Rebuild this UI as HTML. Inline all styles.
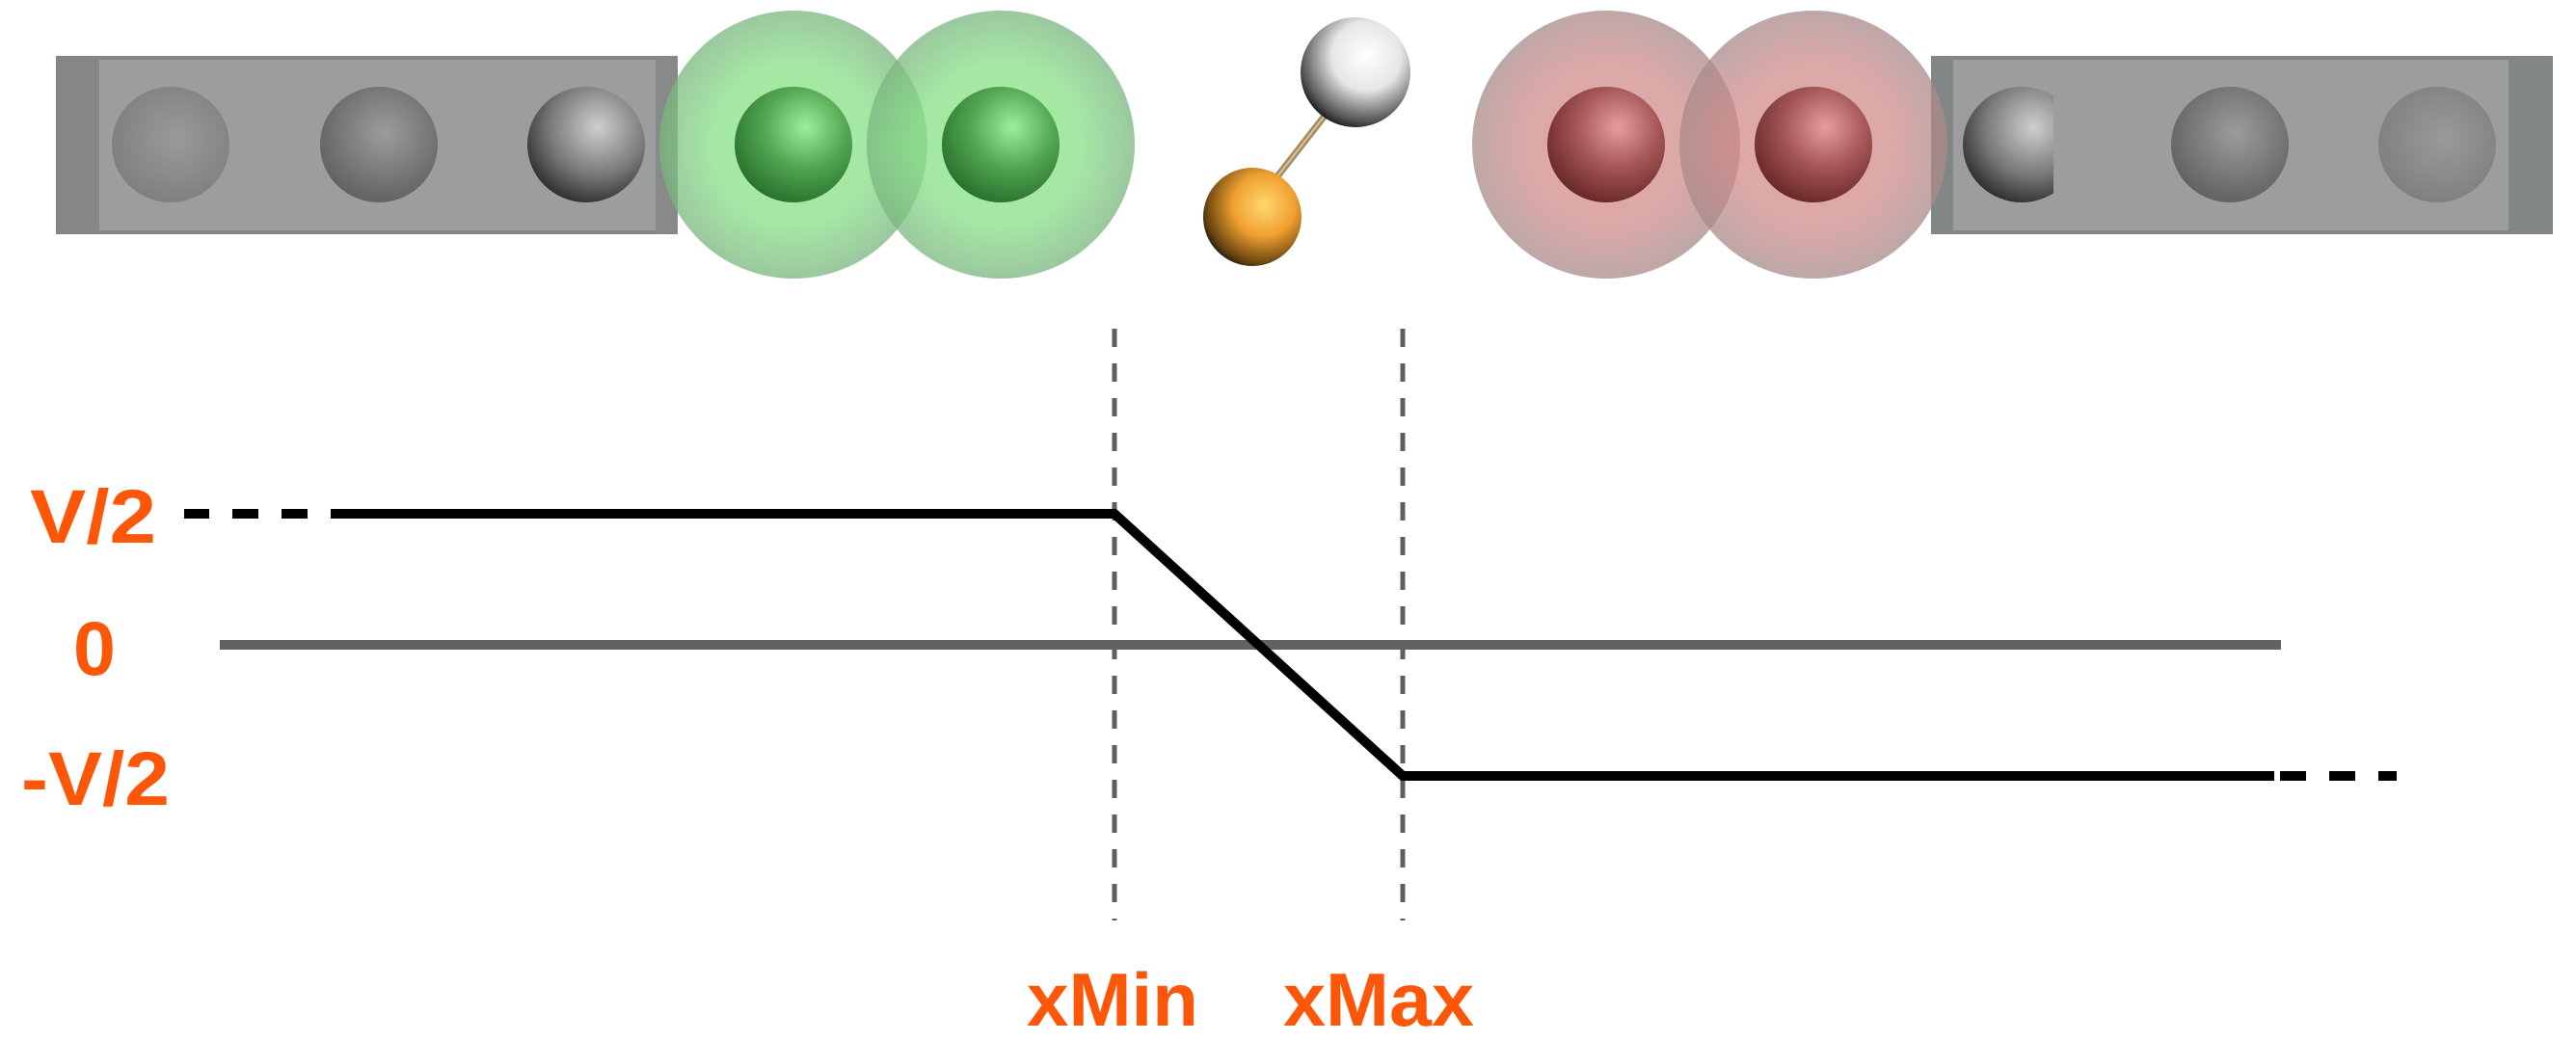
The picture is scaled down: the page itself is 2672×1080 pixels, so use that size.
<!DOCTYPE html>
<html><head><meta charset="utf-8"><style>
html,body{margin:0;padding:0;background:#fff;}
svg{display:block;}
text{font-family:"Liberation Sans",sans-serif;font-weight:bold;fill:#fc5608;}
</style></head><body>
<svg width="2672" height="1080" viewBox="0 0 2672 1080" xmlns="http://www.w3.org/2000/svg">
<defs>
<radialGradient id="gFaint" cx="0.55" cy="0.45" r="0.6"><stop offset="0" stop-color="#9a9a9a"/><stop offset="1" stop-color="#7e7e7e"/></radialGradient>
<radialGradient id="gMid" cx="0.55" cy="0.4" r="0.65"><stop offset="0" stop-color="#9c9c9c"/><stop offset="1" stop-color="#5e5e5e"/></radialGradient>
<radialGradient id="gShiny" cx="0.6" cy="0.35" r="0.7"><stop offset="0" stop-color="#cfcfcf"/><stop offset="0.6" stop-color="#777"/><stop offset="1" stop-color="#2a2a2a"/></radialGradient>
<radialGradient id="gWhite" cx="0.6" cy="0.35" r="0.7"><stop offset="0" stop-color="#fff"/><stop offset="0.45" stop-color="#e6e6e6"/><stop offset="0.85" stop-color="#555"/><stop offset="1" stop-color="#111"/></radialGradient>
<radialGradient id="gOrange" cx="0.62" cy="0.38" r="0.7"><stop offset="0" stop-color="#ffd870"/><stop offset="0.45" stop-color="#f0a030"/><stop offset="0.85" stop-color="#6a4410"/><stop offset="1" stop-color="#111"/></radialGradient>
<radialGradient id="gGreen" cx="0.6" cy="0.35" r="0.7"><stop offset="0" stop-color="#a4f5a4"/><stop offset="0.5" stop-color="#3f923f"/><stop offset="1" stop-color="#04460a"/></radialGradient>
<radialGradient id="gRed" cx="0.6" cy="0.35" r="0.7"><stop offset="0" stop-color="#f0a4a4"/><stop offset="0.5" stop-color="#964646"/><stop offset="1" stop-color="#420404"/></radialGradient>
<radialGradient id="gHaloG" cx="0.5" cy="0.5" r="0.5"><stop offset="0.6" stop-color="#86e086" stop-opacity="0.75"/><stop offset="1" stop-color="#7ab57f" stop-opacity="0.75"/></radialGradient>
<radialGradient id="gHaloR" cx="0.5" cy="0.5" r="0.5"><stop offset="0.6" stop-color="#cf8686" stop-opacity="0.72"/><stop offset="1" stop-color="#a88a8a" stop-opacity="0.75"/></radialGradient>
<clipPath id="clipR"><rect x="2000" y="0" width="130" height="400"/></clipPath>
</defs>

<rect x="58" y="58" width="645" height="185" fill="#858787"/>
<rect x="103" y="62" width="577" height="177" fill="#9c9d9f"/>
<polygon points="680,58 703,62 703,239 680,243" fill="#888a8a"/>
<ellipse cx="177" cy="150" rx="61" ry="60" fill="url(#gFaint)"/>
<ellipse cx="393" cy="150" rx="61" ry="60" fill="url(#gMid)"/>
<ellipse cx="608" cy="150" rx="61" ry="60" fill="url(#gShiny)"/>

<rect x="2003" y="58" width="645" height="185" fill="#838686"/>
<rect x="2026" y="62" width="576" height="177" fill="#9c9d9f"/>
<ellipse cx="2097" cy="150" rx="61" ry="60" fill="url(#gShiny)" clip-path="url(#clipR)"/>
<ellipse cx="2313" cy="150" rx="61" ry="60" fill="url(#gMid)"/>
<ellipse cx="2528" cy="150" rx="61" ry="60" fill="url(#gFaint)"/>

<ellipse cx="823" cy="150" rx="61" ry="60" fill="url(#gGreen)"/>
<ellipse cx="1038" cy="150" rx="61" ry="60" fill="url(#gGreen)"/>
<circle cx="823" cy="150" r="139" fill="url(#gHaloG)"/>
<circle cx="1038" cy="150" r="139" fill="url(#gHaloG)"/>
<ellipse cx="823" cy="150" rx="61" ry="60" fill="url(#gGreen)" opacity="0.65"/>
<ellipse cx="1038" cy="150" rx="61" ry="60" fill="url(#gGreen)" opacity="0.65"/>

<ellipse cx="1666" cy="150" rx="61" ry="60" fill="url(#gRed)"/>
<ellipse cx="1881" cy="150" rx="61" ry="60" fill="url(#gRed)"/>
<circle cx="1666" cy="150" r="139" fill="url(#gHaloR)"/>
<circle cx="1881" cy="150" r="139" fill="url(#gHaloR)"/>
<ellipse cx="1666" cy="150" rx="61" ry="60" fill="url(#gRed)" opacity="0.65"/>
<ellipse cx="1881" cy="150" rx="61" ry="60" fill="url(#gRed)" opacity="0.65"/>

<line x1="1378" y1="115" x2="1318" y2="192" stroke="#a58a60" stroke-width="7"/>
<line x1="1378" y1="115" x2="1318" y2="192" stroke="#d8c49a" stroke-width="2"/>
<circle cx="1406" cy="75" r="57" fill="url(#gWhite)"/>
<circle cx="1299" cy="225" r="51" fill="url(#gOrange)"/>

<line x1="1156" y1="341" x2="1156" y2="955" stroke="#5e5e5e" stroke-width="5" stroke-dasharray="19,17"/>
<line x1="1455" y1="341" x2="1455" y2="955" stroke="#5e5e5e" stroke-width="5" stroke-dasharray="19,17"/>
<line x1="228" y1="669" x2="2366" y2="669" stroke="#626262" stroke-width="10"/>
<polyline points="343,533 1156,533 1455,805 2359,805" fill="none" stroke="#000" stroke-width="10" stroke-linejoin="miter"/>
<g fill="#000">
<rect x="191" y="528" width="26" height="10"/><rect x="241" y="528" width="27" height="10"/><rect x="292" y="528" width="27" height="10"/>
<rect x="2365" y="800" width="27" height="10"/><rect x="2416" y="800" width="27" height="10"/><rect x="2467" y="800" width="19" height="10"/>
</g>

<text x="31" y="563" font-size="79" textLength="131" lengthAdjust="spacingAndGlyphs">V/2</text>
<text x="76" y="700" font-size="79">0</text>
<text x="22" y="835" font-size="79" textLength="154" lengthAdjust="spacingAndGlyphs">-V/2</text>
<text x="1065" y="1064" font-size="78" textLength="178" lengthAdjust="spacingAndGlyphs">xMin</text>
<text x="1331" y="1064" font-size="78" textLength="198" lengthAdjust="spacingAndGlyphs">xMax</text>
</svg>
</body></html>
